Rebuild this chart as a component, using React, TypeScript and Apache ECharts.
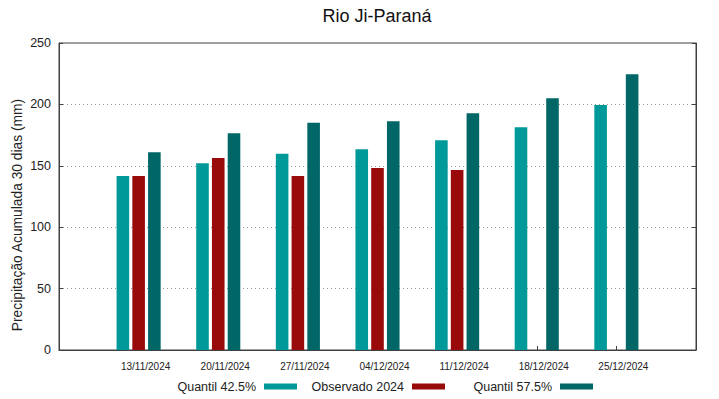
import React, { useEffect, useRef } from "react";
import * as echarts from "echarts";

const categories = ["", "13/11/2024", "20/11/2024", "27/11/2024", "04/12/2024", "11/12/2024", "18/12/2024", "25/12/2024", ""];
const quantil425 = [null, 141.7, 152.0, 159.9, 163.4, 170.8, 181.3, 199.5, null];
const observado2024 = [null, 141.7, 156.4, 141.7, 148.2, 146.6, null, null, null];
const quantil575 = [null, 161.0, 176.5, 185.1, 186.2, 192.7, 205.1, 224.5, null];
const yTicks = { min: 0, max: 250, interval: 50 };

const FONT = "Liberation Sans, Arial, sans-serif";
const C1 = "#009999";
const C2 = "#990a0a";
const C3 = "#006666";

export default function App() {
  const ref = useRef<HTMLDivElement>(null);
  useEffect(() => {
    if (!ref.current) return;
    const chart = echarts.init(ref.current, null, { renderer: "svg" });
    const legendBase = {
      orient: "horizontal",
      align: "right",
      icon: "rect",
      itemWidth: 33,
      itemHeight: 6,
      padding: 0,
      top: 380,
      selectedMode: false,
      textStyle: { fontFamily: FONT, fontSize: 12.5, color: "#222", padding: [0, 3, 0, 0] },
    };
    chart.setOption({
      animation: false,
      backgroundColor: "#fff",
      textStyle: { fontFamily: FONT },
      grid: { left: 59, right: 23, top: 43, bottom: 49, show: true, borderColor: "#404040", borderWidth: 1, backgroundColor: "transparent" },
      legend: [
        { ...legendBase, data: ["Quantil 42.5%"], right: 422 },
        { ...legendBase, data: ["Observado 2024"], right: 274 },
        { ...legendBase, data: ["Quantil 57.5%"], right: 126 },
      ],
      graphic: [
        {
          type: "text",
          x: 377,
          y: 16,
          style: { text: "Rio Ji-Paraná", fontFamily: FONT, fontSize: 18, fill: "#111", textAlign: "center", textVerticalAlign: "middle" },
        },
        {
          type: "text",
          x: 17,
          y: 215,
          rotation: Math.PI / 2,
          style: { text: "Precipitação Acumulada 30 dias (mm)", fontFamily: FONT, fontSize: 13.8, fill: "#222", textAlign: "center", textVerticalAlign: "middle" },
        },
      ],
      xAxis: {
        type: "category",
        data: categories,
        boundaryGap: false,
        axisLine: { show: true, lineStyle: { color: "#404040", width: 1 } },
        axisTick: { show: true, inside: true, length: 4, interval: 0, lineStyle: { color: "#404040" } },
        axisLabel: { interval: 0, fontSize: 10, color: "#222", margin: 11, padding: [0, 0, 0, 14], fontFamily: FONT },
        splitLine: { show: false },
      },
      yAxis: [
        {
          type: "value",
          min: yTicks.min,
          max: yTicks.max,
          interval: yTicks.interval,
          axisLine: { show: true, lineStyle: { color: "#404040" } },
          axisTick: { show: true, inside: true, length: 4, lineStyle: { color: "#404040" } },
          axisLabel: { fontSize: 12.5, color: "#222", margin: 8, fontFamily: FONT },
          splitLine: { show: true, lineStyle: { color: "#9a9a9a", type: [1, 3], width: 1 } },
        },
        {
          type: "value",
          position: "right",
          min: yTicks.min,
          max: yTicks.max,
          interval: yTicks.interval,
          axisLine: { show: true, lineStyle: { color: "#404040" } },
          axisTick: { show: true, inside: true, length: 4, lineStyle: { color: "#404040" } },
          axisLabel: { show: false },
          splitLine: { show: false },
        },
      ],
      series: [
        { name: "Quantil 42.5%", type: "bar", data: quantil425, barWidth: 12.6, barGap: "25%", itemStyle: { color: C1 } },
        { name: "Observado 2024", type: "bar", data: observado2024, barWidth: 12.6, barGap: "25%", itemStyle: { color: C2 } },
        { name: "Quantil 57.5%", type: "bar", data: quantil575, barWidth: 12.6, barGap: "25%", itemStyle: { color: C3 } },
      ],
    });
    return () => chart.dispose();
  }, []);
  return <div ref={ref} style={{ width: 719, height: 399, position: "absolute", left: 0, top: 0 }} />;
}
